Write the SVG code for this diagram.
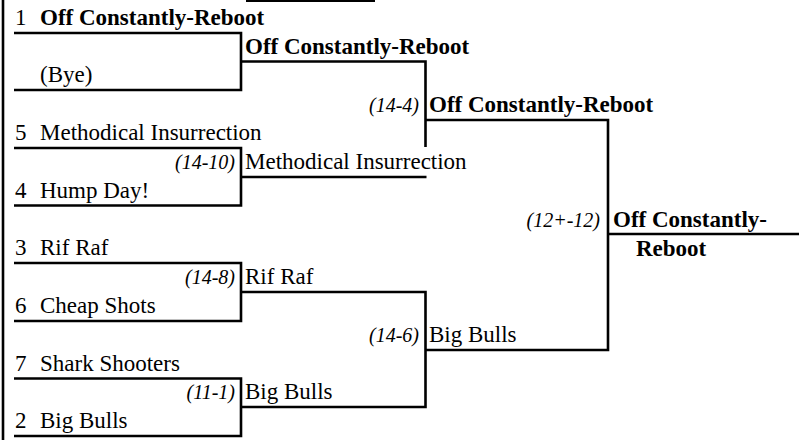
<svg xmlns="http://www.w3.org/2000/svg" width="799" height="440" viewBox="0 0 799 440">
<style>
.ln{fill:none;stroke:#000;stroke-width:2.6;stroke-linejoin:miter}
text{font-family:"Liberation Serif","Times New Roman",serif;fill:#000}
.nm{font-size:23px}
.b{font-weight:bold}
.sc{font-size:20px;font-style:italic;text-anchor:end}
</style>
<rect width="799" height="440" fill="#fff"/>
<g id="frame">
<rect x="1.7" y="0" width="2.6" height="440" fill="#000"/>
<rect x="246" y="0" width="129" height="2" fill="#000"/>
</g>
<g id="connectors" class="ln">
<path d="M14,33H241V90H14"/>
<path d="M14,148H241V205.5H14"/>
<path d="M14,263H241V321H14"/>
<path d="M14,378.5H241V436H14"/>
<path d="M241,61.5H425.5V147"/>
<path d="M241,177H426.5"/>
<path d="M241,292H425.5V407H241"/>
<path d="M425.5,120H608V350H425.5"/>
<path d="M608,234H799"/>
</g>
<g id="seed1"><text class="nm" x="15" y="25">1</text><text class="nm b" x="40" y="25">Off Constantly-Reboot</text></g>
<g id="bye"><text class="nm" x="40" y="82">(Bye)</text></g>
<g id="seed5"><text class="nm" x="15" y="140">5</text><text class="nm" x="40" y="140">Methodical Insurrection</text></g>
<g id="seed4"><text class="nm" x="15" y="197.5">4</text><text class="nm" x="40" y="197.5">Hump Day!</text></g>
<g id="seed3"><text class="nm" x="15" y="255">3</text><text class="nm" x="40" y="255">Rif Raf</text></g>
<g id="seed6"><text class="nm" x="15" y="313">6</text><text class="nm" x="40" y="313">Cheap Shots</text></g>
<g id="seed7"><text class="nm" x="15" y="370.5">7</text><text class="nm" x="40" y="370.5">Shark Shooters</text></g>
<g id="seed2"><text class="nm" x="15" y="428">2</text><text class="nm" x="40" y="428">Big Bulls</text></g>
<g id="r2-1"><text class="nm b" x="245" y="54">Off Constantly-Reboot</text></g>
<g id="r2-2"><text class="sc" x="235" y="169">(14-10)</text><text class="nm" x="245" y="169">Methodical Insurrection</text></g>
<g id="r2-3"><text class="sc" x="235" y="284">(14-8)</text><text class="nm" x="245" y="284">Rif Raf</text></g>
<g id="r2-4"><text class="sc" x="235" y="399">(11-1)</text><text class="nm" x="245" y="399">Big Bulls</text></g>
<g id="r3-1"><text class="sc" x="419" y="112">(14-4)</text><text class="nm b" x="429" y="112">Off Constantly-Reboot</text></g>
<g id="r3-2"><text class="sc" x="419" y="342">(14-6)</text><text class="nm" x="429" y="342">Big Bulls</text></g>
<g id="final"><text class="sc" x="600" y="227">(12+-12)</text><text class="nm b" x="613" y="227">Off Constantly-</text><text class="nm b" x="636" y="256">Reboot</text></g>
</svg>
